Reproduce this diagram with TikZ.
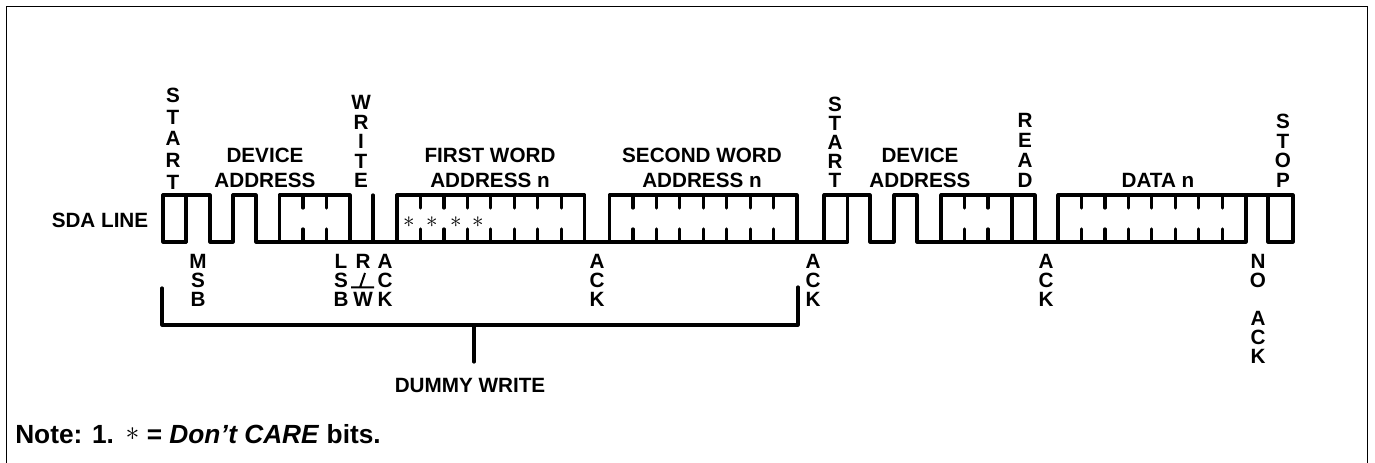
\documentclass[tikz,border=0pt]{standalone}
\usepackage{fontspec}
\setmainfont{Liberation Sans}
\tikzset{
	wave/.style={line width=2.4pt,line cap=round,line join=round},
	frameline/.style={line width=1.2pt},
	stack/.style={inner sep=0pt,align=center,font=\bfseries\fontsize{15.5}{#1}\selectfont},
	stack/.default=14.25,
	title/.style={stack=18.75,anchor=south},
	star/.style={inner sep=0pt,font=\fontsize{19}{19}\selectfont}
}
\begin{document}
\begin{tikzpicture}[x=0.75pt,y=-0.75pt]
	\def\yhi{195}
	\def\ylo{242}
	\def\bitw{23.45}
	\useasboundingbox (0,0) rectangle (1375,463);
	% frame, no bottom side
	\draw[frameline] (6.5,463) -- (6.5,6.5) -- (1367.5,6.5) -- (1367.5,463);
	% SDA trace
	\draw[wave] (186,\ylo) -- (163,\ylo) -- (163,\yhi) -- (210,\yhi) -- (210,\ylo) -- (233,\ylo) -- (233,\yhi) -- (256,\yhi) -- (256,\ylo) -- (847.5,\ylo) -- (847.5,\yhi) -- (824,\yhi) -- (824,\ylo);
	\draw[wave] (186,\ylo) -- (186,\yhi);
	\draw[wave] (279.5,\ylo) -- (279.5,\yhi) -- (350,\yhi) -- (350,\ylo);
	\draw[wave] (373,\ylo) -- (373,\yhi);
	\draw[wave] (397,\ylo) -- (397,\yhi) -- (584.5,\yhi) -- (584.5,\ylo);
	\draw[wave] (609.5,\ylo) -- (609.5,\yhi) -- (797,\yhi) -- (797,\ylo);
	\draw[wave] (847.5,\yhi) -- (870,\yhi) -- (870,\ylo) -- (894,\ylo) -- (894,\yhi) -- (917,\yhi) -- (917,\ylo) -- (1246,\ylo) -- (1246,\yhi) -- (1293,\yhi) -- (1293,\ylo) -- (1268,\ylo) -- (1268,\yhi);
	\draw[wave] (941,\ylo) -- (941,\yhi) -- (1035,\yhi) -- (1035,\ylo);
	\draw[wave] (1012,\ylo) -- (1012,\yhi);
	\draw[wave] (1058,\ylo) -- (1058,\yhi) -- (1246,\yhi);
	% bit ticks
	\foreach \s/\n in {279.5/2,397/7,609.5/7,941/2,1058/7}
		\foreach \k in {1,...,\n}
			\draw[wave] ({\s+\bitw*\k},\yhi) -- ++(0,13) ({\s+\bitw*\k},\ylo) -- ++(0,-13);
	\foreach \i/\x in {1/409,2/432,3/456,4/478}
		\node[star] (ast\i) at (\x,222) {$\ast$};
	% labels above
	\node[stack] (sdaline) at (100,220) {SDA LINE};
	\node[stack=16.3,anchor=south] (startA) at (173,189.5) {S\\T\\A\\R\\T};
	\node[title] (devA) at (265,187.5) {DEVICE\\ADDRESS};
	\node[stack=14.6,anchor=south] (write) at (361,188) {W\\R\\I\\T\\E};
	\node[title] (firstw) at (490,187.5) {FIRST WORD\\ADDRESS n};
	\node[title] (secondw) at (702,187.5) {SECOND WORD\\ADDRESS n};
	\node[stack,anchor=south] (startB) at (835,187.5) {S\\T\\A\\R\\T};
	\node[title] (devB) at (920,187.5) {DEVICE\\ADDRESS};
	\node[stack=15,anchor=south] (read) at (1025,187.5) {R\\E\\A\\D};
	\node[title] (datan) at (1158,187.5) {DATA n};
	\node[stack=14.6,anchor=south] (stopn) at (1283,187.5) {S\\T\\O\\P};
	% labels below
	\node[stack,anchor=north] (msb) at (198,254) {M\\S\\B};
	\node[stack,anchor=north] (lsb) at (341,254) {L\\S\\B};
	\node[stack,anchor=north] (rbar) at (363,254) {R\\ \\W};
	\draw[line width=1.5pt] (351,287.5) -- (374,287.5) (360,287.5) -- (365,273);
	\node[stack,anchor=north] (ackA) at (385,254) {A\\C\\K};
	\node[stack,anchor=north] (ackB) at (597,254) {A\\C\\K};
	\node[stack,anchor=north] (ackC) at (813,254) {A\\C\\K};
	\node[stack,anchor=north] (ackD) at (1046,254) {A\\C\\K};
	\node[stack,anchor=north] (noack) at (1258,254) {N\\O\\ \\A\\C\\K};
	% dummy write bracket
	\coordinate (brL) at (162,325);
	\coordinate (brR) at (798,325);
	\coordinate (brM) at (474,325);
	\draw[wave] (162,288) -- (brL) -- (brR) -- (798,287);
	\draw[wave] (brM) -- (474,362);
	\node[stack] (dummy) at (470,385) {DUMMY WRITE};
	\node[anchor=base west,inner sep=0pt,font=\bfseries\fontsize{19.7}{22}\selectfont] (note) at (15,443.5) {Note: 1.\ \,\raisebox{0.12em}{\fontsize{20}{20}\selectfont$\ast$} = \textit{Don’t CARE} bits.};
\end{tikzpicture}
\end{document}
